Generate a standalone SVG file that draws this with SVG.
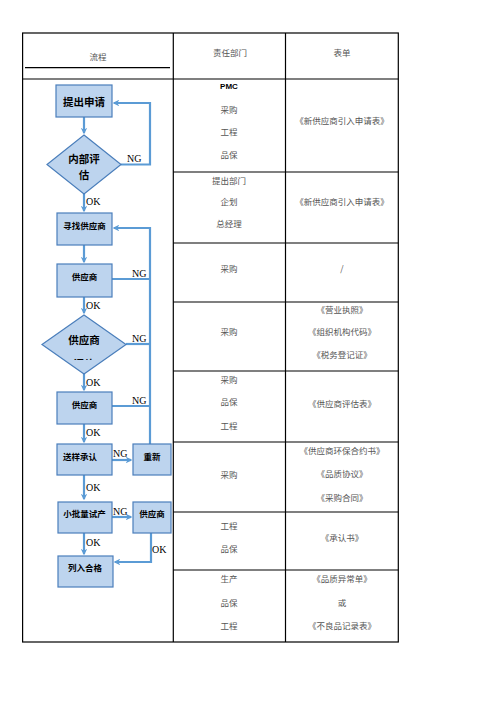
<svg xmlns="http://www.w3.org/2000/svg" width="496" height="702" viewBox="0 0 496 702">
<style>
.grid{stroke:#000;stroke-width:1.2;fill:none}
.box{fill:#BDD4EE;stroke:#4A7EBB;stroke-width:1.2}
.bt{font-family:"Noto Sans CJK SC",sans-serif;font-weight:bold;font-size:8.5px;fill:#000;text-anchor:middle;dominant-baseline:central}
.bt2{font-family:"Noto Sans CJK SC",sans-serif;font-weight:bold;font-size:10.5px;fill:#000;text-anchor:middle;dominant-baseline:central}
.tt{font-family:"Noto Sans CJK SC",sans-serif;font-size:8.5px;fill:#555;text-anchor:middle;dominant-baseline:central}
.lab{font-family:"Liberation Serif",serif;font-size:10px;fill:#000;dominant-baseline:central}
.con{fill:none;stroke:#5B9BD5;stroke-width:2.2}
</style>
<defs>
<marker id="ah" viewBox="0 0 10 10" refX="8" refY="5" markerWidth="3" markerHeight="3" orient="auto">
<path d="M0,0 L10,5 L0,10 L3,5 z" fill="#5B9BD5"/>
</marker>
<clipPath id="clipd"><rect x="40" y="300" width="100" height="60"/></clipPath>
</defs>
<rect width="496" height="702" fill="#fff"/>
<g id="table">
<rect class="grid" x="22.6" y="33" width="375.7" height="609"/>
<line class="grid" x1="173.3" y1="33" x2="173.3" y2="642"/>
<line class="grid" x1="285.5" y1="33" x2="285.5" y2="642"/>
<line class="grid" x1="22.6" y1="79" x2="398.3" y2="79"/>
<line class="grid" x1="25" y1="67.7" x2="170" y2="67.7"/>
<line class="grid" x1="173.3" y1="172" x2="398.3" y2="172"/>
<line class="grid" x1="173.3" y1="243" x2="398.3" y2="243"/>
<line class="grid" x1="173.3" y1="302" x2="398.3" y2="302"/>
<line class="grid" x1="173.3" y1="371" x2="398.3" y2="371"/>
<line class="grid" x1="173.3" y1="442" x2="398.3" y2="442"/>
<line class="grid" x1="173.3" y1="512" x2="398.3" y2="512"/>
<line class="grid" x1="173.3" y1="570" x2="398.3" y2="570"/>
<text class="tt" x="98" y="56">流程</text>
<text class="tt" x="230" y="52">责任部门</text>
<text class="tt" x="342" y="52">表单</text>
<text class="tt" x="229" y="86" style="font-family:'Liberation Sans',sans-serif;font-weight:bold;fill:#000;font-size:8px">PMC</text>
<text class="tt" x="229" y="109">采购</text>
<text class="tt" x="229" y="131">工程</text>
<text class="tt" x="229" y="154">品保</text>
<text class="tt" x="342" y="120">《新供应商引入申请表》</text>
<text class="tt" x="229" y="180">提出部门</text>
<text class="tt" x="229" y="201">企划</text>
<text class="tt" x="229" y="223">总经理</text>
<text class="tt" x="342" y="201">《新供应商引入申请表》</text>
<text class="tt" x="229" y="268">采购</text>
<text class="tt" x="342" y="268">/</text>
<text class="tt" x="229" y="331">采购</text>
<text class="tt" x="342" y="309">《营业执照》</text>
<text class="tt" x="342" y="331">《组织机构代码》</text>
<text class="tt" x="342" y="354">《税务登记证》</text>
<text class="tt" x="229" y="379">采购</text>
<text class="tt" x="229" y="401">品保</text>
<text class="tt" x="229" y="425">工程</text>
<text class="tt" x="342" y="403">《供应商评估表》</text>
<text class="tt" x="229" y="474">采购</text>
<text class="tt" x="342" y="450">《供应商环保合约书》</text>
<text class="tt" x="342" y="473">《品质协议》</text>
<text class="tt" x="342" y="497">《采购合同》</text>
<text class="tt" x="229" y="525">工程</text>
<text class="tt" x="229" y="548">品保</text>
<text class="tt" x="342" y="537">《承认书》</text>
<text class="tt" x="229" y="578">生产</text>
<text class="tt" x="229" y="602">品保</text>
<text class="tt" x="229" y="625">工程</text>
<text class="tt" x="342" y="578">《品质异常单》</text>
<text class="tt" x="342" y="602">或</text>
<text class="tt" x="342" y="625">《不良品记录表》</text>
</g>
<g id="connectors">
<path class="con" d="M84,117 V133" marker-end="url(#ah)"/>
<path class="con" d="M121,164.5 H150 V103 H114" marker-end="url(#ah)"/>
<path class="con" d="M84,194 V211" marker-end="url(#ah)"/>
<path class="con" d="M84,245 V262" marker-end="url(#ah)"/>
<path class="con" d="M112,279 H150"/>
<path class="con" d="M84,297 V313" marker-end="url(#ah)"/>
<path class="con" d="M126,344 H150"/>
<path class="con" d="M84,374 V390" marker-end="url(#ah)"/>
<path class="con" d="M112,406 H150"/>
<path class="con" d="M84,424 V442" marker-end="url(#ah)"/>
<path class="con" d="M112,460 H131" marker-end="url(#ah)"/>
<path class="con" d="M150,444 V228 H114" marker-end="url(#ah)"/>
<path class="con" d="M84,475 V499" marker-end="url(#ah)"/>
<path class="con" d="M112,517 H131" marker-end="url(#ah)"/>
<path class="con" d="M151,533 V562 H115" marker-end="url(#ah)"/>
<path class="con" d="M84,533 V554" marker-end="url(#ah)"/>
<text class="lab" x="127" y="158">NG</text>
<text class="lab" x="86" y="201">OK</text>
<text class="lab" x="132" y="273">NG</text>
<text class="lab" x="86" y="305">OK</text>
<text class="lab" x="132" y="338">NG</text>
<text class="lab" x="86" y="382">OK</text>
<text class="lab" x="132" y="400">NG</text>
<text class="lab" x="86" y="432">OK</text>
<text class="lab" x="113" y="453">NG</text>
<text class="lab" x="86" y="487">OK</text>
<text class="lab" x="113" y="511">NG</text>
<text class="lab" x="86" y="542">OK</text>
<text class="lab" x="152" y="549">OK</text>
</g>
<g id="n1"><rect class="box" x="56" y="85" width="56" height="32"/><text class="bt2" x="84" y="101">提出申请</text></g>
<g id="n2"><polygon class="box" points="84,135 121,164.5 84,194 47,164.5"/><text class="bt2" x="84" y="158">内部评</text><text class="bt2" x="84" y="174">估</text></g>
<g id="n3"><rect class="box" x="57" y="213" width="55" height="32"/><text class="bt" x="84.5" y="225">寻找供应商</text></g>
<g id="n4"><rect class="box" x="57" y="264" width="55" height="33"/><text class="bt" x="84.5" y="276">供应商</text></g>
<g id="n5"><polygon class="box" points="84,315 126,344.5 84,374 42,344.5"/><text class="bt2" x="84" y="339">供应商</text><text class="bt2" x="84" y="363" clip-path="url(#clipd)">评估</text></g>
<g id="n6"><rect class="box" x="57" y="392" width="55" height="32"/><text class="bt" x="84.5" y="404">供应商</text></g>
<g id="n7"><rect class="box" x="57" y="444" width="55" height="31"/><text class="bt" x="80" y="456">送样承认</text></g>
<g id="n8"><rect class="box" x="133" y="444" width="38" height="31"/><text class="bt" x="152" y="456">重新</text></g>
<g id="n9"><rect class="box" x="58" y="502" width="54" height="31"/><text class="bt" x="84.5" y="513">小批量试产</text></g>
<g id="n10"><rect class="box" x="133" y="502" width="38" height="31"/><text class="bt" x="152" y="513">供应商</text></g>
<g id="n11"><rect class="box" x="58" y="556" width="55" height="31"/><text class="bt" x="85" y="567">列入合格</text></g>
</svg>
